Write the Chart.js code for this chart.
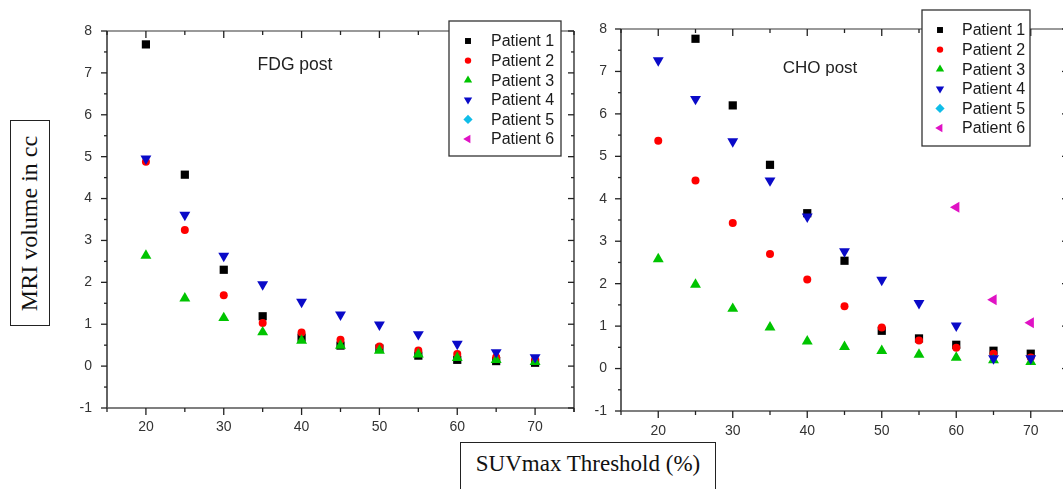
<!DOCTYPE html>
<html><head><meta charset="utf-8">
<script src="https://cdn.jsdelivr.net/npm/chart.js@4.4.0/dist/chart.umd.min.js"></script>
<style>
html,body{margin:0;padding:0;background:#fff;overflow:hidden;width:1063px;height:489px;position:relative;}
canvas{position:absolute;top:0;}
#c1{left:0;}
#c2{left:590px;}
.box{position:absolute;border:1.5px solid #222;font-family:'Liberation Serif','Times New Roman',serif;color:#111;box-sizing:border-box;display:flex;align-items:center;justify-content:center;white-space:nowrap;background:#fff;}
</style></head><body>
<canvas id="c1" width="590" height="489"></canvas>
<canvas id="c2" width="490" height="489"></canvas>
<div class="box" style="left:10px;top:120px;width:40px;height:206px;"><span style="transform:rotate(-90deg);font-size:24px;display:inline-block;">MRI volume in cc</span></div>
<div class="box" style="left:460px;top:442px;width:256px;height:60px;align-items:flex-start;padding-top:8px;font-size:23px;">SUVmax Threshold (%)</div>
<script>
// ---- data ----
const thresholds = [20, 25, 30, 35, 40, 45, 50, 55, 60, 65, 70];
const patientNames = ['Patient 1', 'Patient 2', 'Patient 3', 'Patient 4', 'Patient 5', 'Patient 6'];
const xTickValues = [20, 30, 40, 50, 60, 70];
const yTickValues = [-1, 0, 1, 2, 3, 4, 5, 6, 7, 8];

const fdgP1 = [7.68, 4.57, 2.30, 1.19, 0.68, 0.49, 0.42, 0.25, 0.15, 0.12, 0.08];
const fdgP2 = [4.88, 3.25, 1.69, 1.03, 0.80, 0.63, 0.47, 0.37, 0.29, 0.21, 0.15];
const fdgP3 = [2.64, 1.62, 1.15, 0.81, 0.61, 0.49, 0.37, 0.28, 0.20, 0.15, 0.10];
const fdgP4 = [4.95, 3.61, 2.63, 1.95, 1.53, 1.23, 0.99, 0.76, 0.53, 0.33, 0.21];
const fdgP5 = [null, null, null, null, null, null, null, null, null, null, null];
const fdgP6 = [null, null, null, null, null, null, null, null, null, null, null];

const choP1 = [null, 7.77, 6.20, 4.80, 3.66, 2.54, 0.89, 0.71, 0.56, 0.42, 0.35];
const choP2 = [5.37, 4.43, 3.43, 2.70, 2.10, 1.47, 0.97, 0.66, 0.49, 0.35, 0.26];
const choP3 = [2.58, 1.98, 1.41, 0.97, 0.64, 0.51, 0.42, 0.33, 0.26, 0.20, 0.16];
const choP4 = [7.26, 6.35, 5.35, 4.43, 3.58, 2.76, 2.09, 1.54, 1.01, 0.24, 0.24];
const choP5 = [null, null, null, null, null, null, null, null, null, null, null];
const choP6 = [null, null, null, null, null, null, null, null, 3.80, 1.62, 1.08];

// ---- styles ----
const colors = ['#000000', '#ff0000', '#00c400', '#0a0ac8', '#10bde8', '#e012c4'];
const styles = ['rect', 'circle', 'triangle', 'triangle', 'rectRot', 'triangle'];
const rotations = [0, 0, 0, 180, 0, -90];
const radii = [5.8, 4.0, 6.3, 6.3, 5.4, 6.3];
const legendRadii = [4.2, 3.2, 4.8, 4.8, 4.6, 4.8];
const FONT = "'Liberation Sans', Arial, sans-serif";

function makeDatasets(series) {
  return series.map((vals, i) => ({
    label: patientNames[i],
    data: thresholds.map((t, k) => ({ x: t, y: vals[k] })).filter(p => p.y !== null),
    pointStyle: styles[i],
    rotation: rotations[i],
    pointRadius: radii[i],
    pointHoverRadius: radii[i],
    backgroundColor: colors[i],
    borderColor: colors[i],
    borderWidth: 0,
    showLine: false,
    order: 6 - i
  }));
}

function makeChart(canvasId, series, cfg) {
  const W = cfg.width, H = cfg.height;
  const frame = {
    id: 'frame',
    afterDraw(chart) {
      const ctx = chart.ctx;
      const { left: L, right: R, top: T, bottom: B } = chart.chartArea;
      const xs = chart.scales.x, ys = chart.scales.y;
      ctx.save();
      ctx.lineCap = 'butt';
      ctx.lineWidth = 1.4;
      ctx.strokeStyle = '#777';
      ctx.beginPath(); ctx.moveTo(L, T); ctx.lineTo(R, T); ctx.stroke();
      ctx.strokeStyle = '#222';
      ctx.beginPath(); ctx.moveTo(L, T); ctx.lineTo(L, B); ctx.stroke();
      ctx.strokeStyle = '#555';
      ctx.beginPath(); ctx.moveTo(L, B); ctx.lineTo(R, B); ctx.stroke();
      ctx.strokeStyle = '#333';
      ctx.beginPath(); ctx.moveTo(R, T); ctx.lineTo(R, B + 4); ctx.stroke();
      ctx.strokeStyle = '#222';
      ctx.lineWidth = 1.3;
      for (let v = -1; v <= 8.001; v += 0.5) {
        const py = ys.getPixelForValue(v);
        const major = Math.abs(v - Math.round(v)) < 1e-6;
        const len = major ? 6 : 3;
        ctx.beginPath(); ctx.moveTo(L, py); ctx.lineTo(L - len, py); ctx.stroke();
        ctx.beginPath(); ctx.moveTo(R, py); ctx.lineTo(R - len, py); ctx.stroke();
      }
      for (let v = 15; v <= 75.001; v += 5) {
        const px = xs.getPixelForValue(v);
        const major = v % 10 === 0;
        const len = major ? 7 : 4;
        ctx.beginPath(); ctx.moveTo(px, B); ctx.lineTo(px, B + len); ctx.stroke();
        ctx.beginPath(); ctx.moveTo(px, T); ctx.lineTo(px, T + len); ctx.stroke();
      }
      ctx.fillStyle = '#222';
      ctx.font = cfg.titleSize + 'px ' + FONT;
      ctx.textAlign = 'center';
      ctx.textBaseline = 'middle';
      ctx.fillText(cfg.title, cfg.titleX, cfg.titleY);
      const lb = cfg.legend;
      ctx.fillStyle = '#fff';
      ctx.fillRect(lb.x, lb.y, lb.w, lb.h);
      ctx.strokeStyle = '#333';
      ctx.lineWidth = 1.3;
      ctx.strokeRect(lb.x, lb.y, lb.w, lb.h);
      ctx.font = '16px ' + FONT;
      ctx.textAlign = 'left';
      patientNames.forEach((name, i) => {
        const cy = lb.y + 20 + i * 19.6;
        ctx.fillStyle = colors[i];
        ctx.strokeStyle = colors[i];
        Chart.helpers.drawPoint(ctx, { pointStyle: styles[i], rotation: rotations[i], radius: legendRadii[i], borderWidth: 0 }, lb.markerX, cy);
        ctx.fillStyle = '#1a1a1a';
        ctx.fillText(name, lb.textX, cy + 1);
      });
      ctx.restore();
    }
  };
  return new Chart(document.getElementById(canvasId), {
    type: 'scatter',
    data: { datasets: makeDatasets(series) },
    options: {
      responsive: false,
      animation: false,
      events: [],
      layout: { padding: { left: 0, top: cfg.top, right: W - cfg.right, bottom: 0 } },
      plugins: { legend: { display: false }, tooltip: { enabled: false } },
      scales: {
        x: {
          type: 'linear', min: 15, max: 75,
          afterBuildTicks: s => { s.ticks = xTickValues.map(v => ({ value: v })); },
          afterFit: s => { s.height = H - cfg.bottom; },
          grid: { display: false, drawTicks: false },
          border: { display: false },
          ticks: { padding: cfg.xPad, color: '#333', font: { family: FONT, size: 14 }, maxRotation: 0 }
        },
        y: {
          type: 'linear', min: -1, max: 8,
          afterBuildTicks: s => { s.ticks = yTickValues.map(v => ({ value: v })); },
          afterFit: s => { s.width = cfg.left; },
          grid: { display: false, drawTicks: false },
          border: { display: false },
          ticks: { padding: cfg.yPad, color: '#333', font: { family: FONT, size: 14 } }
        }
      }
    },
    plugins: [frame]
  });
}

makeChart('c1', [fdgP1, fdgP2, fdgP3, fdgP4, fdgP5, fdgP6], {
  width: 590, height: 489, left: 107, right: 574, top: 31, bottom: 408,
  xPad: 11, yPad: 15,
  title: 'FDG post', titleX: 295, titleY: 65, titleSize: 17.5,
  legend: { x: 449, y: 21, w: 112, h: 135, markerX: 468, textX: 491 }
});
makeChart('c2', [choP1, choP2, choP3, choP4, choP5, choP6], {
  width: 490, height: 489, left: 31, right: 478, top: 29, bottom: 411,
  xPad: 12, yPad: 14,
  title: 'CHO post', titleX: 230, titleY: 68, titleSize: 17,
  legend: { x: 332, y: 10, w: 108, h: 136, markerX: 350, textX: 372 }
});
</script>
</body></html>
